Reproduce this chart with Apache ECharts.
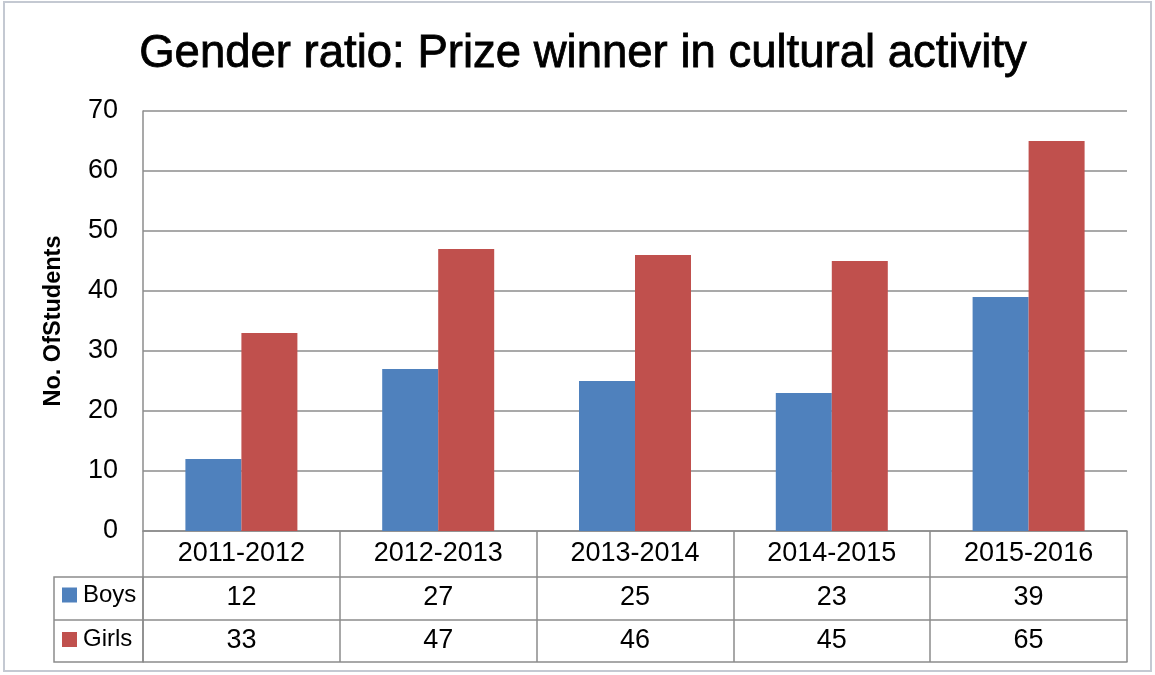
<!DOCTYPE html>
<html>
<head>
<meta charset="utf-8">
<script src="https://cdn.jsdelivr.net/npm/echarts@6/dist/echarts.min.js"></script>
<style>
  html, body { margin: 0; padding: 0; background: #fff; }
  #chart { width: 1155px; height: 675px; }
</style>
</head>
<body>
<div id="chart"></div>
<script>
// 数据
const years = ['2011-2012', '2012-2013', '2013-2014', '2014-2015', '2015-2016']
const boys = [12, 27, 25, 23, 39]
const girls = [33, 47, 46, 45, 65]
const yTicks = [0, 10, 20, 30, 40, 50, 60, 70]

const lineGrey = '#8c8c8c'
const font = 'Liberation Sans, Arial, sans-serif'

const myChart = echarts.init(document.getElementById('chart'))

// 表格里的一行（用x轴来画）
function tableRow(values, offset, tickLen, margin) {
  return {
    type: 'category',
    gridIndex: 0,
    position: 'bottom',
    offset: offset,
    data: values.map(String),
    axisLine: { show: true, lineStyle: { color: lineGrey, width: 1.5 } },
    axisTick: { show: tickLen > 0, length: tickLen, interval: 0, lineStyle: { color: lineGrey, width: 1.5 } },
    axisLabel: { show: margin >= 0, margin: margin, fontSize: 27, color: '#000', fontFamily: font, interval: 0 },
  }
}

const option = {
  animation: false,
  title: {
    text: 'Gender ratio: Prize winner in cultural activity',
    left: 578,
    textAlign: 'center',
    top: 26,
    textStyle: {
      fontSize: 45.5,
      fontWeight: 'normal',
      color: '#000',
      fontFamily: font,
      textBorderColor: '#000',
      textBorderWidth: 0.8,
    },
  },
  legend: {
    orient: 'vertical',
    left: 62,
    top: 583,
    padding: 0,
    itemWidth: 15,
    itemHeight: 15,
    itemGap: 20.5,
    icon: 'rect',
    textStyle: { fontSize: 24, lineHeight: 24, color: '#000', fontFamily: font, padding: [0, 0, 0, 1] },
    data: ['Boys', 'Girls'],
  },
  grid: { left: 143, right: 28, top: 111, bottom: 144, containLabel: false },
  xAxis: [
    {
      type: 'category',
      data: years,
      axisLine: { show: true, lineStyle: { color: lineGrey, width: 1.5 } },
      axisTick: { show: true, length: 46, interval: 0, lineStyle: { color: lineGrey, width: 1.5 } },
      axisLabel: { margin: 9, fontSize: 27, color: '#000', fontFamily: font, interval: 0 },
    },
    tableRow(boys, 46, 43, 7),
    tableRow(girls, 89, 42, 7),
    tableRow(['', '', '', '', ''], 131, 0, -1),
  ],
  yAxis: {
    type: 'value',
    min: yTicks[0],
    max: yTicks[yTicks.length - 1],
    interval: 10,
    name: 'No. OfStudents',
    nameLocation: 'middle',
    nameGap: 77,
    nameTextStyle: { fontSize: 23.5, fontWeight: 'bold', color: '#000', fontFamily: font },
    axisLine: { show: true, lineStyle: { color: lineGrey, width: 1.5 } },
    axisTick: { show: false },
    axisLabel: { margin: 25, fontSize: 27, color: '#000', fontFamily: font },
    splitLine: { lineStyle: { color: lineGrey, width: 1.5 } },
  },
  series: [
    {
      name: 'Boys',
      type: 'bar',
      data: boys,
      barWidth: 56,
      barGap: '0%',
      itemStyle: { color: '#4F81BD' },
    },
    {
      name: 'Girls',
      type: 'bar',
      data: girls,
      barWidth: 56,
      barGap: '0%',
      itemStyle: { color: '#C0504D' },
    },
  ],
  graphic: [
    // 外框
    {
      type: 'rect',
      shape: { x: 4, y: 2, width: 1147, height: 669 },
      style: { fill: 'none', stroke: '#c4c9d2', lineWidth: 2 },
      silent: true,
    },
    // 图例那一列的表格线
    {
      type: 'rect',
      shape: { x: 54, y: 577, width: 89, height: 85 },
      style: { fill: 'none', stroke: lineGrey, lineWidth: 1.5 },
      silent: true,
    },
    {
      type: 'line',
      shape: { x1: 54, y1: 620, x2: 143, y2: 620 },
      style: { stroke: lineGrey, lineWidth: 1.5 },
      silent: true,
    },
  ],
}

myChart.setOption(option, true)
</script>
</body>
</html>
